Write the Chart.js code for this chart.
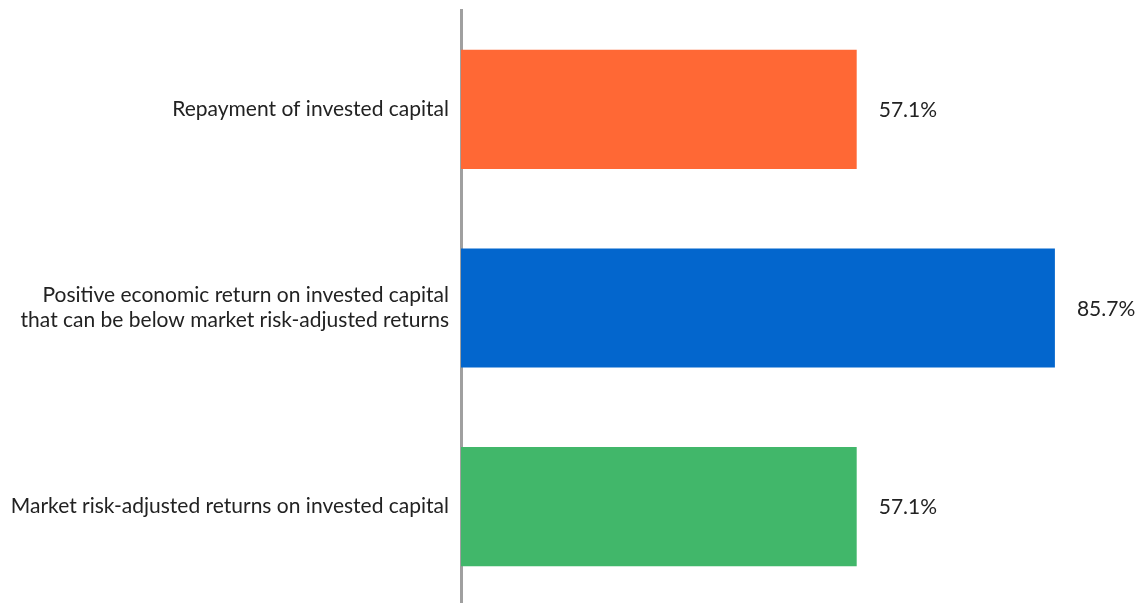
<!DOCTYPE html>
<html lang="en">
<head>
  <meta charset="UTF-8">
  <title>Returns on invested capital</title>
  <script src="https://cdn.jsdelivr.net/npm/chart.js"></script>
  <style>
    html, body { margin: 0; padding: 0; background: #fff; overflow: hidden; }
    #wrap { position: relative; width: 1154px; height: 606px; }
  </style>
</head>
<body>
  <div id="wrap"><canvas id="chart"></canvas></div>
  <script>
    // chart data
    const categories = [
      ['Repayment of invested capital'],
      ['Positive economic return on invested capital', 'that can be below market risk-adjusted returns'],
      ['Market risk-adjusted returns on invested capital']
    ];
    const shares = [57.1, 85.7, 57.1];
    const barColors = ['#FF6835', '#0366CD', '#41B76A'];

    const FONT = 'Lato, "Open Sans", sans-serif';

    // value labels to the right of each bar
    const valueLabels = {
      id: 'valueLabels',
      afterDatasetsDraw(chart) {
        const ctx = chart.ctx;
        const meta = chart.getDatasetMeta(0);
        ctx.save();
        ctx.font = '21px ' + FONT;
        ctx.fillStyle = '#222';
        ctx.textAlign = 'left';
        ctx.textBaseline = 'middle';
        meta.data.forEach((bar, i) => {
          ctx.fillText(shares[i].toFixed(1) + '%', bar.x + 22, bar.y + 1);
        });
        ctx.restore();
      }
    };

    new Chart(document.getElementById('chart').getContext('2d'), {
      type: 'bar',
      data: {
        labels: categories,
        datasets: [{
          data: shares,
          backgroundColor: barColors,
          borderWidth: 0,
          barPercentage: 0.6,
          categoryPercentage: 1.0
        }]
      },
      options: {
        indexAxis: 'y',
        responsive: true,
        maintainAspectRatio: false,
        animation: false,
        layout: { padding: { top: 10, right: 0, bottom: 0, left: 0 } },
        plugins: {
          legend: { display: false },
          tooltip: { enabled: false }
        },
        scales: {
          x: {
            display: false,
            min: 0,
            max: 100
          },
          y: {
            afterFit(axis) {
              axis.width = 461;
              axis.paddingTop = 0;
              axis.paddingBottom = 0;
            },
            grid: { display: false, drawTicks: false },
            border: { display: true, color: '#A0A0A0', width: 3 },
            ticks: {
              padding: 12,
              color: '#222',
              font: { family: FONT, size: 21 }
            }
          }
        }
      },
      plugins: [valueLabels]
    });
  </script>
</body>
</html>
